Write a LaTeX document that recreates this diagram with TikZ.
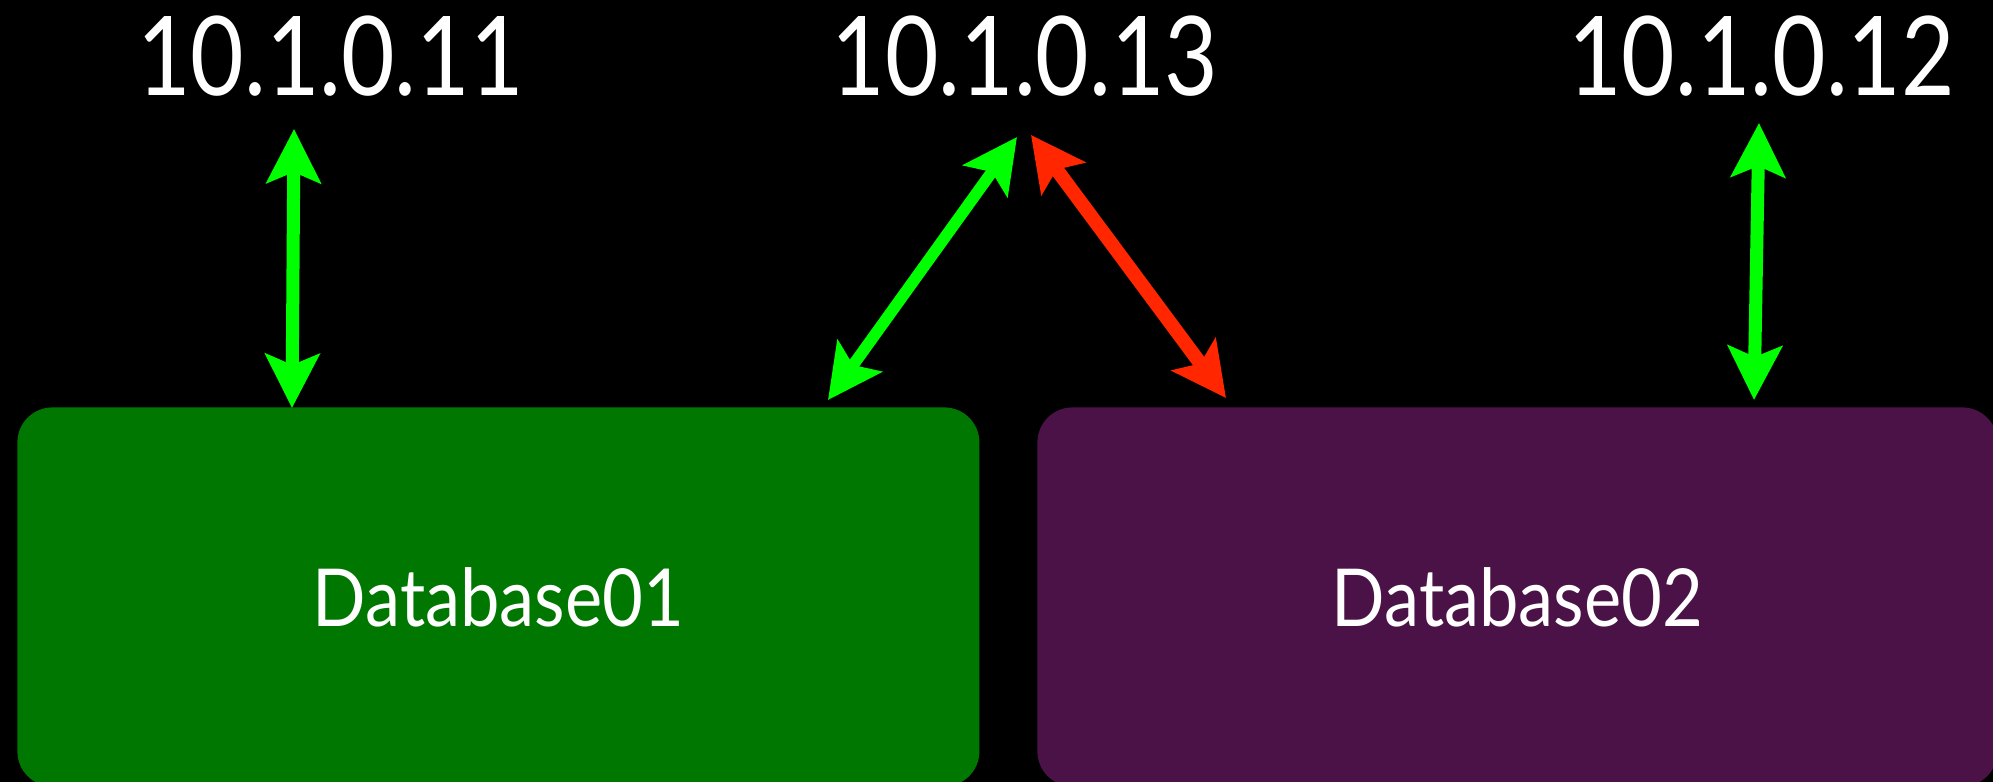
\documentclass[tikz,border=0pt]{standalone}
\usepackage{fontspec}
\setmainfont{Lato}
\usetikzlibrary{arrows.meta}
\definecolor{bggreen}{HTML}{007700}
\definecolor{bgpurple}{HTML}{4A1246}
\definecolor{arrgreen}{HTML}{00FF00}
\definecolor{arrred}{HTML}{FF2600}
\tikzset{
  ip/.style={text=white, font=\fontsize{55}{61}\selectfont, inner sep=0pt, anchor=base},
  dbbox/.style={rectangle, rounded corners=17.5pt, inner sep=0pt, text=white,
    font=\fontsize{40}{46}\selectfont, minimum height=189.5pt, anchor=north west},
  link/.style={line width=6pt,
    {Stealth[length=27pt,width=27pt,inset=5.5pt]}-{Stealth[length=27pt,width=27pt,inset=5.5pt]}},
}
\begin{document}
\begin{tikzpicture}[x=0.5pt,y=-0.5pt]
\fill[black] (0,0) rectangle (1993,782);
\useasboundingbox (0,0) rectangle (1993,782);
\begin{scope}
\clip (0,0) rectangle (1993,782);
\node[dbbox, fill=bggreen, minimum width=481pt] (db1) at (17,407) {\scalebox{0.88}[1]{Database01}};
\node[dbbox, fill=bgpurple, minimum width=480pt] (db2) at (1037,407) {\scalebox{0.88}[1]{Database02}};
\end{scope}
\node[ip] (ip11) at (330.5,95) {\scalebox{0.84}[1]{10.1.0.11}};
\node[ip] (ip13) at (1025,95) {\scalebox{0.84}[1]{10.1.0.13}};
\node[ip] (ip12) at (1761.5,95) {\scalebox{0.84}[1]{10.1.0.12}};
\coordinate (a1t) at (294,129);
\coordinate (a1b) at (292,408);
\coordinate (a2t) at (1017,137);
\coordinate (a2b) at (828,400);
\coordinate (a3t) at (1031,135);
\coordinate (a3b) at (1226,398);
\coordinate (a4t) at (1759,123);
\coordinate (a4b) at (1754,400);
\draw[link, arrgreen, line width=6.5pt] (a1t) -- (a1b);
\draw[link, arrgreen, line width=5.8pt] (a2t) -- (a2b);
\draw[link, arrred, line width=7pt] (a3t) -- (a3b);
\draw[link, arrgreen, line width=6.5pt] (a4t) -- (a4b);
\end{tikzpicture}
\end{document}
